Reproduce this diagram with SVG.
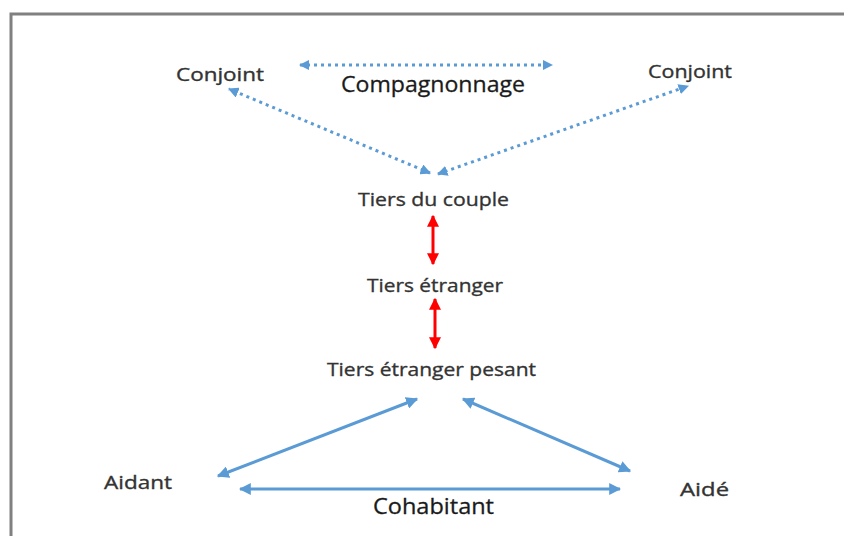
<svg xmlns="http://www.w3.org/2000/svg" width="844" height="536" viewBox="0 0 844 536">
<defs>
<style>
.t{font-family:"Open Sans","Noto Sans","Liberation Sans",sans-serif;fill:#333333;stroke:#333333;stroke-width:0.35;}
.tb{font-family:"Open Sans","Noto Sans","Liberation Sans",sans-serif;fill:#1a1a1a;stroke:#1a1a1a;stroke-width:0.3;}
.dot{stroke:#5B9BD5;stroke-width:3;stroke-dasharray:3 4;fill:none;}
.solid{stroke:#5B9BD5;stroke-width:3;fill:none;}
.red{stroke:#FF0000;stroke-width:3;fill:none;}
</style>
<marker id="hb" viewBox="0 0 10 10" refX="9" refY="5" markerWidth="4" markerHeight="4" orient="auto-start-reverse" markerUnits="strokeWidth">
<path d="M0,0 L10,5 L0,10 Z" fill="#5B9BD5"/>
</marker>
<marker id="hd" viewBox="0 0 10 10" refX="9" refY="5" markerWidth="3.5" markerHeight="3.5" orient="auto-start-reverse" markerUnits="strokeWidth">
<path d="M0,0 L10,5 L0,10 Z" fill="#5B9BD5"/>
</marker>
<marker id="hr" viewBox="0 0 10 10" refX="9" refY="5" markerWidth="4" markerHeight="4" orient="auto-start-reverse" markerUnits="strokeWidth">
<path d="M0,0 L10,5 L0,10 Z" fill="#FF0000"/>
</marker>
</defs>
<rect width="844" height="536" fill="#ffffff"/>
<rect x="11" y="14" width="900" height="600" fill="none" stroke="#808080" stroke-width="3"/>
<g id="connectors">
<line class="dot" x1="300" y1="65" x2="552" y2="65" marker-start="url(#hd)" marker-end="url(#hd)"/>
<line class="dot" x1="430" y1="173" x2="229" y2="89" marker-start="url(#hd)" marker-end="url(#hd)"/>
<line class="dot" x1="438" y1="174" x2="688" y2="86" marker-start="url(#hd)" marker-end="url(#hd)"/>
<line class="red" x1="433" y1="216" x2="433" y2="264" marker-start="url(#hr)" marker-end="url(#hr)"/>
<line class="red" x1="435" y1="299" x2="435" y2="348" marker-start="url(#hr)" marker-end="url(#hr)"/>
<line class="solid" x1="218" y1="476" x2="417" y2="399" marker-start="url(#hb)" marker-end="url(#hb)"/>
<line class="solid" x1="463" y1="399" x2="630" y2="471" marker-start="url(#hb)" marker-end="url(#hb)"/>
<line class="solid" x1="240" y1="489" x2="620" y2="489" marker-start="url(#hb)" marker-end="url(#hb)"/>
</g>
<g id="conjoint-left"><text class="t" x="176" y="81" font-size="18" textLength="88" lengthAdjust="spacingAndGlyphs">Conjoint</text></g>
<g id="compagnonnage"><text class="tb" x="341" y="92" font-size="22" textLength="184" lengthAdjust="spacingAndGlyphs">Compagnonnage</text></g>
<g id="conjoint-right"><text class="t" x="648" y="78" font-size="18" textLength="84" lengthAdjust="spacingAndGlyphs">Conjoint</text></g>
<g id="tiers-couple"><text class="t" x="358" y="206" font-size="19" textLength="151" lengthAdjust="spacingAndGlyphs">Tiers du couple</text></g>
<g id="tiers-etranger"><text class="t" x="367" y="292" font-size="19" textLength="136" lengthAdjust="spacingAndGlyphs">Tiers étranger</text></g>
<g id="tiers-pesant"><text class="t" x="327" y="376" font-size="19" textLength="209" lengthAdjust="spacingAndGlyphs">Tiers étranger pesant</text></g>
<g id="aidant"><text class="t" x="104" y="489" font-size="19" textLength="68" lengthAdjust="spacingAndGlyphs">Aidant</text></g>
<g id="aide"><text class="t" x="680" y="496" font-size="19" textLength="49" lengthAdjust="spacingAndGlyphs">Aidé</text></g>
<g id="cohabitant"><text class="tb" x="373" y="514" font-size="22" textLength="121" lengthAdjust="spacingAndGlyphs">Cohabitant</text></g>
</svg>
